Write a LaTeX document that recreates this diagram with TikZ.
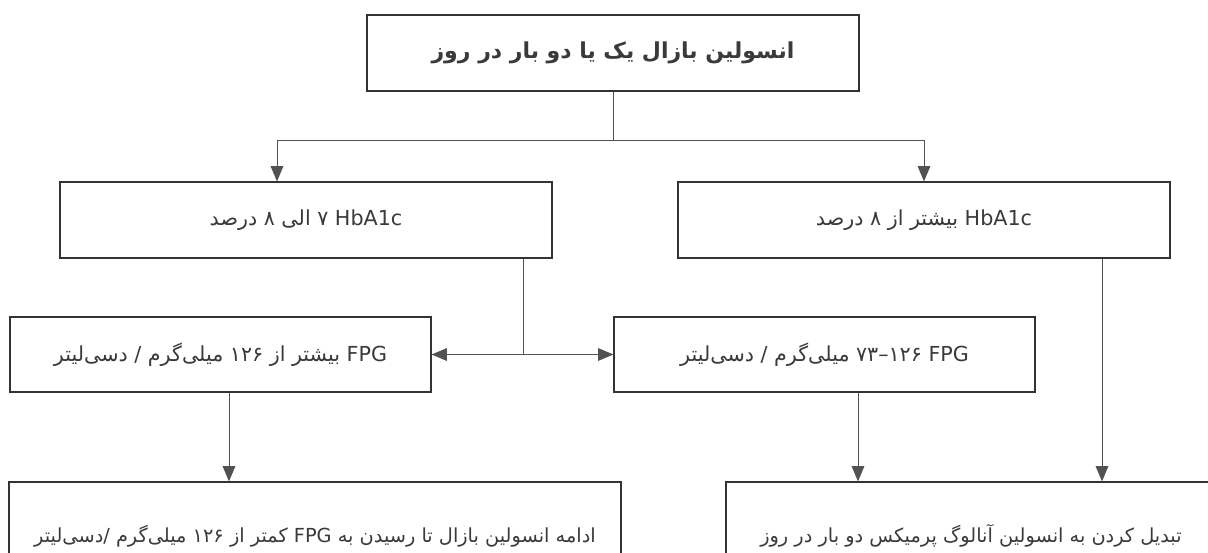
\documentclass[tikz,border=0pt]{standalone}
\usepackage{fontspec}
\usetikzlibrary{positioning,arrows.meta,calc}
\newfontfamily\fafont[Script=Arabic]{DejaVu Sans}
\TeXXeTstate=1
\definecolor{LineGray}{HTML}{333333}
\definecolor{TextGray}{HTML}{3A3A3A}

\begin{document}
\begin{tikzpicture}[
    x=0.75pt, y=-0.75pt,
    box/.style={draw=LineGray, line width=0.9pt, fill=white, inner sep=2pt,
                align=center, text=TextGray,
                font=\fafont\fontsize{15.5}{18}\selectfont},
    headbox/.style={box, minimum width=492*0.75pt, minimum height=76*0.75pt,
                    font=\fafont\fontsize{16.5}{20}\selectfont\bfseries},
    hbbox/.style={box, minimum width=492*0.75pt, minimum height=76*0.75pt},
    fpgbox/.style={box, minimum width=421*0.75pt, minimum height=75*0.75pt},
    endbox/.style={box, minimum height=108*0.75pt,
                   font=\fafont\fontsize{14.5}{17}\selectfont},
    ln/.style={draw=LineGray!85, line width=0.75pt},
    ar/.style={ln, -{Triangle[length=11.5pt,width=9.5pt]}},
  ]
    \useasboundingbox (0,0) rectangle (1208,553);
    \clip (0,0) rectangle (1208,553);

    % ── Top: starting regimen ───────────────────────────────────────────
    \node[headbox] (start) at (613,53)
      {\beginR انسولین بازال یک یا دو بار در روز\endR};

    % ── Row 1: HbA1c ranges ─────────────────────────────────────────────
    \node[hbbox] (hblow)  at (306,220)
      {\beginR\beginL HbA1c\endL{} ۷ الی ۸ درصد\endR};
    \node[hbbox] (hbhigh) at (924,220)
      {\beginR\beginL HbA1c\endL{} بیشتر از ۸ درصد\endR};

    % ── Row 2: FPG ranges ───────────────────────────────────────────────
    \node[fpgbox] (fpghigh) at (220.5,354.5)
      {\beginR\beginL FPG\endL{} بیشتر از \beginL ۱۲۶\endL{} میلی^^^^200cگرم / دسی^^^^200cلیتر\endR};
    \node[fpgbox] (fpgmid)  at (824.5,354.5)
      {\beginR\beginL FPG\endL{} \beginL\hbox{۷۳}\hbox{–}\hbox{۱۲۶}\endL{} میلی^^^^200cگرم / دسی^^^^200cلیتر\endR};

    % ── Row 3: actions (cut by the page edge) ───────────────────────────
    \node[endbox, minimum width=612*0.75pt] (keep) at (315,536)
      {\beginR ادامه انسولین بازال تا رسیدن به \beginL FPG\endL{} کمتر از \beginL ۱۲۶\endL{} میلی^^^^200cگرم /دسی^^^^200cلیتر\endR};
    \node[endbox, minimum width=490*0.75pt] (premix) at (971,536)
      {\beginR تبدیل کردن به انسولین آنالوگ پرمیکس دو بار در روز\endR};

    % ── Split below the top box ─────────────────────────────────────────
    \coordinate (split) at (start.south |- 0,140);
    \draw[ln] (start.south) -- (split);
    \draw[ar] (split) -| ($(hblow.north)+(-29,0)$);
    \draw[ar] (split) -| (hbhigh.north);

    % ── HbA1c 7-8 → both FPG boxes ──────────────────────────────────────
    \coordinate (hbout) at ($(hblow.south)+(217,0)$);
    \coordinate (junc)  at (hbout |- fpghigh.east);
    \draw[ln] (hbout) -- (junc);
    \foreach \b in {fpghigh.east, fpgmid.west}
      \draw[ar] (junc) -- (\b);

    % ── Down to the actions ─────────────────────────────────────────────
    \coordinate (fhout) at ($(fpghigh.south)+(8.5,0)$);
    \coordinate (fmout) at ($(fpgmid.south)+(33.5,0)$);
    \coordinate (hhout) at ($(hbhigh.south)+(178,0)$);
    \draw[ar] (fhout) -- (fhout |- keep.north);
    \foreach \a in {fmout, hhout}
      \draw[ar] (\a) -- (\a |- premix.north);
\end{tikzpicture}
\end{document}
